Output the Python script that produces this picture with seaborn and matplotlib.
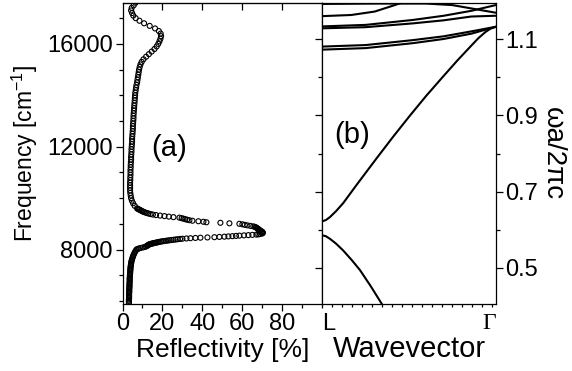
import numpy as np
import pandas as pd
import seaborn as sns
import matplotlib.pyplot as plt
from matplotlib.ticker import MultipleLocator, FixedLocator

freq_low = [5900, 5950, 6000, 6050, 6100, 6150, 6200, 6250, 6300, 6350,
            6400, 6450, 6500, 6550, 6600, 6650, 6700, 6750, 6800, 6850,
            6900, 6950, 7000, 7050, 7100, 7150, 7200, 7250, 7300, 7350,
            7400, 7450, 7500, 7550, 7600, 7650, 7700, 7750, 7800, 7850,
            7900, 7950]
refl_low = [3.2, 3.2, 3.2, 3.2, 3.3, 3.3, 3.3, 3.3, 3.3, 3.4,
            3.4, 3.4, 3.4, 3.5, 3.5, 3.5, 3.5, 3.6, 3.6, 3.6,
            3.6, 3.7, 3.7, 3.8, 3.8, 3.9, 3.9, 4.0, 4.0, 4.1,
            4.2, 4.3, 4.4, 4.5, 4.7, 4.9, 5.1, 5.3, 5.6, 5.9,
            6.2, 6.6]

freq_rise = [8000, 8020, 8040, 8060, 8080, 8100, 8120, 8140, 8160, 8180]
refl_rise = [7.0, 7.5, 8.2, 9.0, 10.2, 11.2, 11.8, 12.3, 12.6, 12.9]

freq_edge = [8200, 8210, 8220, 8230, 8240, 8250, 8260, 8270, 8280, 8290,
             8300, 8310, 8320, 8330, 8340, 8350, 8360, 8370, 8380, 8390,
             8400, 8410, 8420, 8430, 8440, 8450, 8460, 8470, 8480, 8490,
             8500, 8510, 8520, 8530, 8540, 8550, 8560, 8570, 8580, 8590, 8600]
refl_edge = [13.4, 13.8, 14.2, 14.7, 15.2, 15.7, 16.3, 16.9, 17.5, 18.0,
             18.6, 19.3, 20.0, 20.9, 21.8, 22.7, 23.6, 24.6, 25.6, 26.6,
             27.6, 28.8, 30.0, 32.0, 34.0, 36.5, 39.0, 42.5, 46.0, 48.5,
             51.0, 53.0, 55.0, 56.8, 58.5, 60.8, 63.0, 65.0, 67.0, 68.0, 68.8]

freq_fall = [8620, 8640, 8660, 8680, 8700, 8720, 8740, 8760, 8780,
             8800, 8820, 8840, 8860, 8880, 8900, 8920, 8940, 8960, 8980,
             9000, 9020, 9040, 9060, 9080, 9100, 9120, 9140, 9160, 9180,
             9200, 9220, 9240, 9260, 9280, 9300, 9320, 9340, 9360, 9380,
             9400, 9420, 9440, 9460, 9480, 9500, 9520, 9540, 9560, 9580, 9600]
refl_fall = [69.8, 70.2, 70.2, 70.0, 69.7, 69.3, 68.8, 68.5, 68.2,
             67.9, 67.6, 67.2, 66.8, 66.3, 65.5, 64.0, 62.5, 61.2, 60.0,
             58.5, 53.5, 49.0, 42.0, 40.5, 38.0, 35.0, 33.5, 32.3, 31.4,
             30.5, 29.6, 28.5, 25.5, 23.2, 21.0, 18.8, 16.8, 15.2, 14.0,
             13.0, 12.2, 11.4, 10.7, 10.1, 9.6, 9.2, 8.7, 8.2, 7.7, 7.3]

freq_high = [9700, 9800, 9900, 10000, 10100, 10200, 10300, 10400, 10500, 10600,
             10700, 10800, 10900, 11000, 11100, 11200, 11300, 11400, 11500, 11600,
             11700, 11800, 11900, 12000, 12100, 12200, 12300, 12400, 12500, 12600,
             12700, 12800, 12900, 13000, 13100, 13200, 13300, 13400, 13500, 13600,
             13700, 13800, 13900, 14000, 14100, 14200, 14300, 14400, 14500, 14600,
             14700, 14800, 14900, 15000, 15100, 15200, 15300, 15400, 15500, 15600,
             15700, 15800, 15900, 16000, 16100, 16200, 16300, 16400, 16500, 16600,
             16700, 16800, 16900, 17000, 17100, 17200, 17300, 17400, 17500, 17600]
refl_high = [6.1, 5.3, 4.7, 4.3, 4.1, 3.9, 3.8, 3.8, 3.8, 3.8,
             3.9, 3.9, 4.0, 4.0, 4.0, 4.1, 4.1, 4.2, 4.3, 4.3,
             4.4, 4.5, 4.5, 4.6, 4.7, 4.8, 4.8, 4.9, 5.0, 5.1,
             5.2, 5.2, 5.3, 5.4, 5.5, 5.5, 5.6, 5.7, 5.8, 5.9,
             6.0, 6.1, 6.2, 6.3, 6.4, 6.6, 6.8, 7.0, 7.3, 7.5,
             7.7, 7.9, 8.1, 8.3, 8.6, 9.0, 9.6, 10.5, 11.8, 13.2,
             14.6, 16.0, 17.1, 17.9, 18.5, 19.0, 19.3, 19.1, 18.2, 16.3,
             13.6, 10.8, 8.5, 6.6, 5.4, 4.8, 4.3, 4.6, 5.6, 6.5]

# ---- panel (b): photonic bands along L -> Gamma (k as fraction of L-Gamma) ----
band1_k = [0.0, 0.02, 0.044, 0.08, 0.121, 0.17, 0.217, 0.28, 0.343, 0.40]
band1_w = [0.585, 0.583, 0.576, 0.563, 0.545, 0.520, 0.494, 0.451, 0.405, 0.365]
band2_k = [0.0, 0.02, 0.044, 0.08, 0.121, 0.2, 0.314, 0.41, 0.506, 0.6,
           0.698, 0.78, 0.852, 0.9, 0.94, 0.97, 1.0]
band2_w = [0.622, 0.625, 0.633, 0.649, 0.670, 0.719, 0.788, 0.845, 0.900, 0.952,
           1.003, 1.045, 1.080, 1.103, 1.119, 1.128, 1.133]
band3a_k = [0.0, 0.25, 0.523, 0.70, 0.86, 1.0]
band3a_w = [1.081, 1.085, 1.098, 1.108, 1.121, 1.133]
band3b_k = [0.0, 0.25, 0.523, 0.70, 0.86, 1.0]
band3b_w = [1.073, 1.077, 1.090, 1.101, 1.115, 1.133]
band4a_k = [0.0, 0.25, 0.523, 0.70, 0.86, 1.0]
band4a_w = [1.134, 1.138, 1.151, 1.162, 1.175, 1.19]
band4b_k = [0.0, 0.25, 0.523, 0.70, 0.86, 1.0]
band4b_w = [1.129, 1.132, 1.142, 1.150, 1.160, 1.162]
band5_k = [0.0, 0.167, 0.302, 0.418, 0.475, 0.52]
band5_w = [1.161, 1.164, 1.173, 1.190, 1.199, 1.21]
band6_k = [0.0, 0.3, 0.6, 0.75, 0.85, 1.0]
band6_w = [1.193, 1.194, 1.194, 1.190, 1.182, 1.170]

bands = [
    (band1_k, band1_w), (band2_k, band2_w), (band3a_k, band3a_w),
    (band3b_k, band3b_w), (band4a_k, band4a_w), (band4b_k, band4b_w),
    (band5_k, band5_w), (band6_k, band6_w),
]

sns.set_style("ticks")
plt.rcParams["font.family"] = ["Liberation Sans", "DejaVu Sans"]
plt.rcParams["mathtext.default"] = "regular"
for key in ("text.color", "axes.labelcolor", "axes.edgecolor",
            "xtick.color", "ytick.color"):
    plt.rcParams[key] = "black"

fig = plt.figure(figsize=(5.72, 3.71), dpi=100)
ax_a = fig.add_axes([122.5 / 572, 67.5 / 371, 199.8 / 572, 300.5 / 371])
ax_b = fig.add_axes([322.3 / 572, 67.5 / 371, 173.4 / 572, 300.5 / 371])

spec = pd.DataFrame({
    "freq": freq_low + freq_rise + freq_edge + freq_fall + freq_high,
    "refl": refl_low + refl_rise + refl_edge + refl_fall + refl_high,
})
sns.scatterplot(data=spec, x="refl", y="freq", ax=ax_a, marker="o", s=13,
                facecolor="none", edgecolor="black", linewidth=0.8)

ax_a.set_xlim(0, 100)
ax_a.set_ylim(5900, 17590)
ax_a.xaxis.set_major_locator(FixedLocator([0, 20, 40, 60, 80]))
ax_a.xaxis.set_minor_locator(MultipleLocator(10))
ax_a.yaxis.set_major_locator(MultipleLocator(4000))
ax_a.yaxis.set_minor_locator(MultipleLocator(1000))
ax_a.tick_params(which="major", direction="out", length=5, width=0.9, labelsize=17, pad=2)
ax_a.tick_params(which="minor", direction="out", length=3, width=0.9)
ax_a.tick_params(axis="y", right=False)
ax_a.set_xlabel("Reflectivity [%]", fontsize=19, labelpad=2)
ax_a.set_ylabel("Frequency [cm$^{-1}$]", fontsize=16.5, labelpad=5)
ax_a.text(23.5, 11950, "(a)", fontsize=21, ha="center", va="center")
top = ax_a.secondary_xaxis("top")
top.set_xticks([20, 40, 60, 80])
top.tick_params(direction="in", length=5, width=0.9, labeltop=False)

for k, w in bands:
    sns.lineplot(x=k, y=w, ax=ax_b, color="black", linewidth=1.5, sort=False,
                 estimator=None)

ax_b.set_xlim(0, 1)
ax_b.set_ylim(0.406, 1.1955)
ax_b.set_xticks([0, 1])
ax_b.set_xticklabels(["L", "Γ"])
lbls = ax_b.get_xticklabels()
lbls[0].set_ha("left")
lbls[1].set_ha("right")
lbls[1].set_family(["Liberation Serif", "DejaVu Serif"])
ax_b.xaxis.set_minor_locator(FixedLocator(np.arange(0.0577, 1.0, 0.0577)))
ax_b.tick_params(axis="x", which="major", length=0, labelsize=17, pad=7)
ax_b.tick_params(axis="x", which="minor", direction="out", length=2.5, width=0.9)
ax_b.yaxis.set_major_locator(FixedLocator([0.5, 0.7, 0.9, 1.1]))
ax_b.yaxis.set_minor_locator(MultipleLocator(0.1))
ax_b.tick_params(axis="y", which="both", left=True, right=True,
                 labelleft=False, labelright=True, direction="out", width=0.9)
ax_b.tick_params(axis="y", which="major", length=5, labelsize=17, pad=2)
ax_b.tick_params(axis="y", which="minor", length=3)
ax_b.yaxis.set_label_position("right")
ax_b.set_ylabel("ωa/2πc", fontsize=20, rotation=270, labelpad=20)
ax_b.set_xlabel("Wavevector", fontsize=21, labelpad=0)
ax_b.text(0.174, 0.848, "(b)", fontsize=21, ha="center", va="center")

for ax in (ax_a, ax_b):
    for sp in ax.spines.values():
        sp.set_visible(True)
        sp.set_linewidth(0.9)
        sp.set_color("black")

fig.savefig("out.png", dpi=100)
